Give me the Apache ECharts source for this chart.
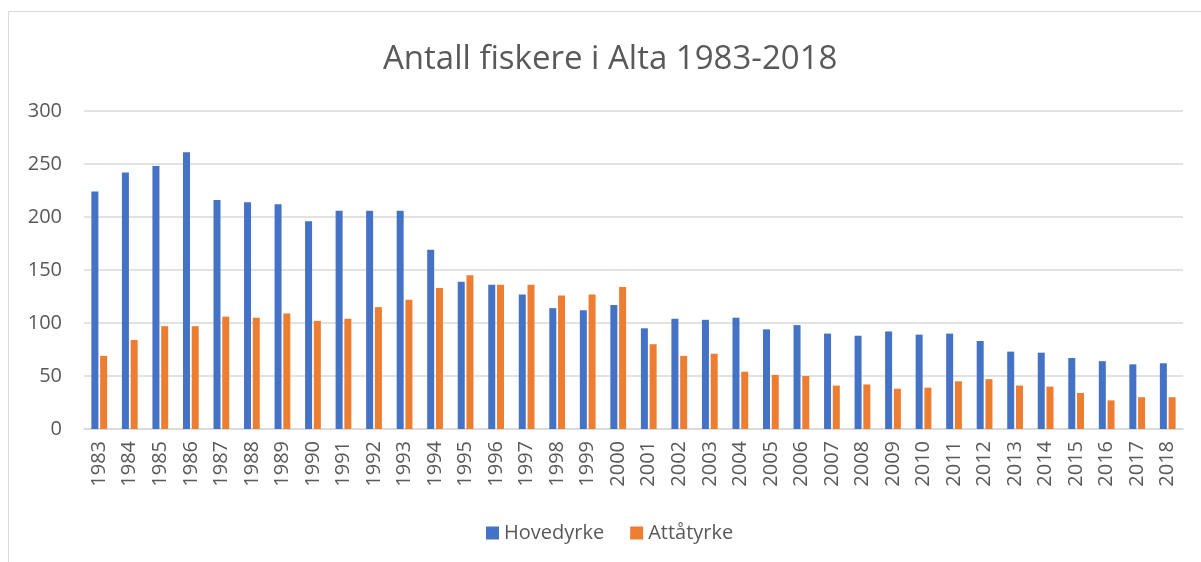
<!DOCTYPE html>
<html>
<head>
<meta charset="utf-8">
<script src="https://cdn.jsdelivr.net/npm/echarts@6/dist/echarts.min.js"></script>
<style>
  html, body { margin: 0; padding: 0; background: #fff; }
  #chart { width: 1201px; height: 562px; }
</style>
</head>
<body>
<div id="chart"></div>
<script>
// Data
const years = [
  '1983','1984','1985','1986','1987','1988','1989','1990','1991','1992','1993','1994',
  '1995','1996','1997','1998','1999','2000','2001','2002','2003','2004','2005','2006',
  '2007','2008','2009','2010','2011','2012','2013','2014','2015','2016','2017','2018'
];
const hovedyrke = [
  224, 242, 248, 261, 216, 214, 212, 196, 206, 206, 206, 169,
  139, 136, 127, 114, 112, 117, 95, 104, 103, 105, 94, 98,
  90, 88, 92, 89, 90, 83, 73, 72, 67, 64, 61, 62
];
const attatyrke = [
  69, 84, 97, 97, 106, 105, 109, 102, 104, 115, 122, 133,
  145, 136, 136, 126, 127, 134, 80, 69, 71, 54, 51, 50,
  41, 42, 38, 39, 45, 47, 41, 40, 34, 27, 30, 30
];
const yTicks = { min: 0, max: 300, interval: 50 };

const textColor = '#595959';
const gridColor = '#d9d9d9';
const font = 'Open Sans';

const chart = echarts.init(document.getElementById('chart'));

chart.setOption({
  animation: false,
  backgroundColor: '#fff',
  graphic: [{
    type: 'rect',
    shape: { x: 8.5, y: 11.5, width: 1300, height: 700 },
    style: { fill: 'none', stroke: '#d9d9d9', lineWidth: 1 },
    silent: true
  }],
  title: {
    text: 'Antall fiskere i Alta 1983-2018',
    left: 378,
    top: 38,
    textStyle: { fontFamily: font, fontSize: 33, fontWeight: 'normal', color: textColor }
  },
  legend: {
    bottom: 14,
    left: 481,
    itemWidth: 13,
    itemHeight: 13,
    itemGap: 26,
    icon: 'rect',
    textStyle: { fontFamily: font, fontSize: 20, color: textColor }
  },
  grid: { left: 84, right: 18, top: 111, bottom: 133 },
  xAxis: {
    type: 'category',
    data: years,
    axisLine: { lineStyle: { color: gridColor, width: 1.5 } },
    axisTick: { show: false },
    axisLabel: {
      rotate: 90,
      fontFamily: font,
      fontSize: 20,
      color: textColor,
      margin: 12
    }
  },
  yAxis: {
    type: 'value',
    min: yTicks.min,
    max: yTicks.max,
    interval: yTicks.interval,
    axisLine: { show: false },
    axisTick: { show: false },
    splitLine: { lineStyle: { color: gridColor, width: 1.5 } },
    axisLabel: { fontFamily: font, fontSize: 20, color: textColor, margin: 22 }
  },
  series: [
    {
      name: 'Hovedyrke',
      type: 'bar',
      data: hovedyrke,
      barWidth: 7,
      barGap: '25%',
      itemStyle: { color: '#4472c4' }
    },
    {
      name: 'Attåtyrke',
      type: 'bar',
      data: attatyrke,
      barWidth: 7,
      itemStyle: { color: '#ed7d31' }
    }
  ]
});
</script>
</body>
</html>
